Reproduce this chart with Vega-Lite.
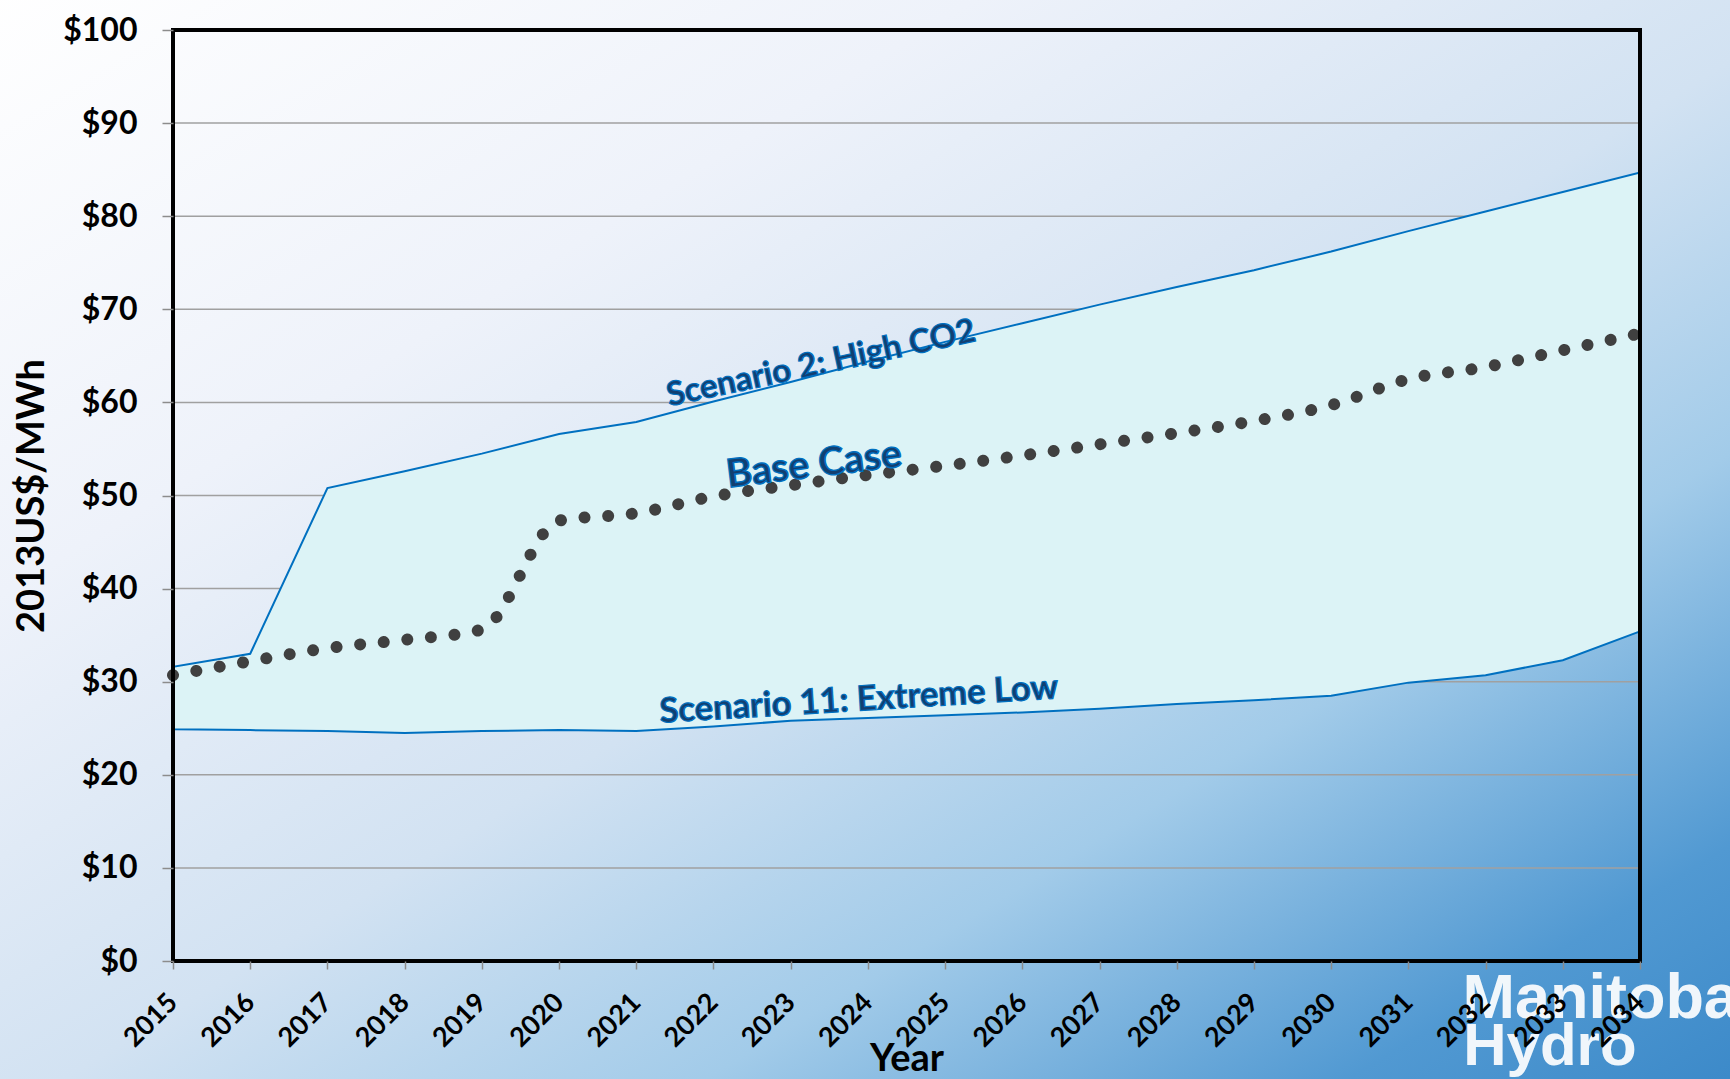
{
  "$schema": "https://vega.github.io/schema/vega-lite/v6.json",
  "width": 1467,
  "height": 931,
  "autosize": {"type": "none"},
  "padding": {"left": 173, "top": 30, "right": 90, "bottom": 118},
  "background": "#DDE8F5",
  "datasets": {
    "prices": [
      {"year": 2015, "high": 31.6, "low": 24.9, "base": 30.7},
      {"year": 2016, "high": 33.0, "low": 24.8, "base": 32.2},
      {"year": 2017, "high": 50.8, "low": 24.7, "base": 33.6},
      {"year": 2018, "high": 52.6, "low": 24.5, "base": 34.5},
      {"year": 2019, "high": 54.5, "low": 24.7, "base": 35.6},
      {"year": 2020, "high": 56.6, "low": 24.8, "base": 47.3},
      {"year": 2021, "high": 57.9, "low": 24.7, "base": 48.1},
      {"year": 2022, "high": 60.1, "low": 25.2, "base": 49.9},
      {"year": 2023, "high": 62.2, "low": 25.8, "base": 51.1},
      {"year": 2024, "high": 64.4, "low": 26.1, "base": 52.2},
      {"year": 2025, "high": 66.5, "low": 26.4, "base": 53.2},
      {"year": 2026, "high": 68.5, "low": 26.7, "base": 54.3},
      {"year": 2027, "high": 70.5, "low": 27.1, "base": 55.5},
      {"year": 2028, "high": 72.4, "low": 27.6, "base": 56.7},
      {"year": 2029, "high": 74.2, "low": 28.0, "base": 58.0},
      {"year": 2030, "high": 76.2, "low": 28.5, "base": 59.7},
      {"year": 2031, "high": 78.4, "low": 29.9, "base": 62.5},
      {"year": 2032, "high": 80.5, "low": 30.7, "base": 63.8},
      {"year": 2033, "high": 82.6, "low": 32.3, "base": 65.6},
      {"year": 2034, "high": 84.7, "low": 35.4, "base": 67.4}
    ]
  },
  "data": {"name": "prices"},
  "layer": [
    {
      "data": {"values": [{}]},
      "mark": {
        "type": "rect",
        "clip": false,
        "color": {
          "gradient": "linear",
          "x1": 0, "y1": 0, "x2": 1, "y2": 1,
          "stops": [
            {"offset": 0, "color": "#FFFFFF"},
            {"offset": 0.28, "color": "#EEF2FA"},
            {"offset": 0.52, "color": "#D2E2F2"},
            {"offset": 0.7, "color": "#A2CBE9"},
            {"offset": 0.88, "color": "#5199D2"},
            {"offset": 1, "color": "#3A88C8"}
          ]
        }
      },
      "encoding": {
        "x": {"datum": 2012.5, "type": "quantitative", "scale": {"domain": [2015, 2034], "nice": false, "zero": false}},
        "x2": {"datum": 2035.6},
        "y": {"datum": -13.5, "type": "quantitative", "scale": {"domain": [0, 100], "nice": false, "zero": false}},
        "y2": {"datum": 103.5}
      }
    },
    {
      "data": {"values": [{"level": 10}, {"level": 20}, {"level": 30}, {"level": 40}, {"level": 50}, {"level": 60}, {"level": 70}, {"level": 80}, {"level": 90}]},
      "mark": {"type": "rule", "color": "#A0A0A0", "strokeWidth": 1.5},
      "encoding": {
        "y": {"field": "level", "type": "quantitative", "scale": {"domain": [0, 100], "nice": false, "zero": false}}
      }
    },
    {
      "mark": {"type": "area", "fill": "#DCF3F6", "stroke": "#0070C0", "strokeWidth": 2},
      "encoding": {
        "x": {
          "field": "year", "type": "quantitative",
          "scale": {"domain": [2015, 2034], "nice": false, "zero": false},
          "axis": {
            "zindex": 1,
            "values": [2015, 2016, 2017, 2018, 2019, 2020, 2021, 2022, 2023, 2024, 2025, 2026, 2027, 2028, 2029, 2030, 2031, 2032, 2033, 2034],
            "format": "d",
            "labelAngle": -45,
            "labelAlign": "right",
            "labelBaseline": "middle",
            "labelFontSize": 27,
            "labelPadding": 29,
            "labelOverlap": false,
            "labelFlush": false,
            "labelBound": false,
            "tickSize": 8,
            "grid": false,
            "title": "Year",
            "titleFontSize": 38,
            "titleBaseline": "top",
            "titleY": 79
          }
        },
        "y": {
          "field": "low", "type": "quantitative",
          "scale": {"domain": [0, 100], "nice": false, "zero": false},
          "axis": {
            "zindex": 1,
            "values": [0, 10, 20, 30, 40, 50, 60, 70, 80, 90, 100],
            "format": "$.0f",
            "labelFontSize": 32,
            "labelPadding": 25,
            "labelOverlap": false,
            "tickSize": 11,
            "grid": false,
            "title": "2013US$/MWh",
            "titleFontSize": 38,
            "titlePadding": 11
          }
        },
        "y2": {"field": "high"}
      }
    },
    {
      "mark": {"type": "line", "color": "#404040", "strokeWidth": 12, "strokeDash": [0.01, 23.7], "strokeCap": "round", "interpolate": "monotone"},
      "encoding": {
        "x": {"field": "year", "type": "quantitative", "scale": {"domain": [2015, 2034], "nice": false, "zero": false}},
        "y": {"field": "base", "type": "quantitative", "scale": {"domain": [0, 100], "nice": false, "zero": false}}
      }
    },
    {
      "data": {"values": [{}]},
      "mark": {"type": "text", "text": "Scenario 2: High CO2", "font": "Lato", "fontWeight": "bold", "fontSize": 33, "angle": -12, "align": "center", "baseline": "alphabetic", "fill": "#123F70", "stroke": "#0070C0", "strokeWidth": 1.2},
      "encoding": {
        "x": {"datum": 2023.42, "type": "quantitative", "scale": {"domain": [2015, 2034], "nice": false, "zero": false}},
        "y": {"datum": 63.1, "type": "quantitative", "scale": {"domain": [0, 100], "nice": false, "zero": false}}
      }
    },
    {
      "data": {"values": [{}]},
      "mark": {"type": "text", "text": "Base Case", "font": "Lato", "fontWeight": "bold", "fontSize": 39, "angle": -7, "align": "center", "baseline": "alphabetic", "fill": "#123F70", "stroke": "#0070C0", "strokeWidth": 1.4},
      "encoding": {
        "x": {"datum": 2023.32, "type": "quantitative", "scale": {"domain": [2015, 2034], "nice": false, "zero": false}},
        "y": {"datum": 52.0, "type": "quantitative", "scale": {"domain": [0, 100], "nice": false, "zero": false}}
      }
    },
    {
      "data": {"values": [{}]},
      "mark": {"type": "text", "text": "Scenario 11: Extreme Low", "font": "Lato", "fontWeight": "bold", "fontSize": 34.5, "angle": -3.5, "align": "center", "baseline": "alphabetic", "fill": "#123F70", "stroke": "#0070C0", "strokeWidth": 1.2},
      "encoding": {
        "x": {"datum": 2023.89, "type": "quantitative", "scale": {"domain": [2015, 2034], "nice": false, "zero": false}},
        "y": {"datum": 26.9, "type": "quantitative", "scale": {"domain": [0, 100], "nice": false, "zero": false}}
      }
    },
    {
      "data": {"values": [{}]},
      "mark": {"type": "text", "text": "Manitoba", "font": "Liberation Sans", "fontWeight": "bold", "fontSize": 63, "align": "left", "baseline": "alphabetic", "fill": "#FFFFFF", "opacity": 0.92, "clip": false},
      "encoding": {
        "x": {"datum": 2031.7, "type": "quantitative", "scale": {"domain": [2015, 2034], "nice": false, "zero": false}},
        "y": {"datum": -6.12, "type": "quantitative", "scale": {"domain": [0, 100], "nice": false, "zero": false}}
      }
    },
    {
      "data": {"values": [{}]},
      "mark": {"type": "text", "text": "Hydro", "font": "Liberation Sans", "fontWeight": "bold", "fontSize": 60, "align": "left", "baseline": "alphabetic", "fill": "#FFFFFF", "opacity": 0.92, "clip": false},
      "encoding": {
        "x": {"datum": 2031.71, "type": "quantitative", "scale": {"domain": [2015, 2034], "nice": false, "zero": false}},
        "y": {"datum": -11.17, "type": "quantitative", "scale": {"domain": [0, 100], "nice": false, "zero": false}}
      }
    },
    {
      "data": {"values": [{}]},
      "mark": {"type": "rect", "fillOpacity": 0, "stroke": "#000000", "strokeWidth": 4},
      "encoding": {
        "x": {"datum": 2015, "type": "quantitative", "scale": {"domain": [2015, 2034], "nice": false, "zero": false}},
        "x2": {"datum": 2034},
        "y": {"datum": 0, "type": "quantitative", "scale": {"domain": [0, 100], "nice": false, "zero": false}},
        "y2": {"datum": 100}
      }
    }
  ],
  "config": {
    "view": {"stroke": null},
    "axis": {
      "labelFont": "Lato",
      "labelFontWeight": "bold",
      "labelColor": "#000000",
      "titleFont": "Lato",
      "titleFontWeight": "bold",
      "titleColor": "#000000",
      "domain": false,
      "tickColor": "#8C8C8C",
      "tickWidth": 1.5,
      "zindex": 1
    }
  }
}
